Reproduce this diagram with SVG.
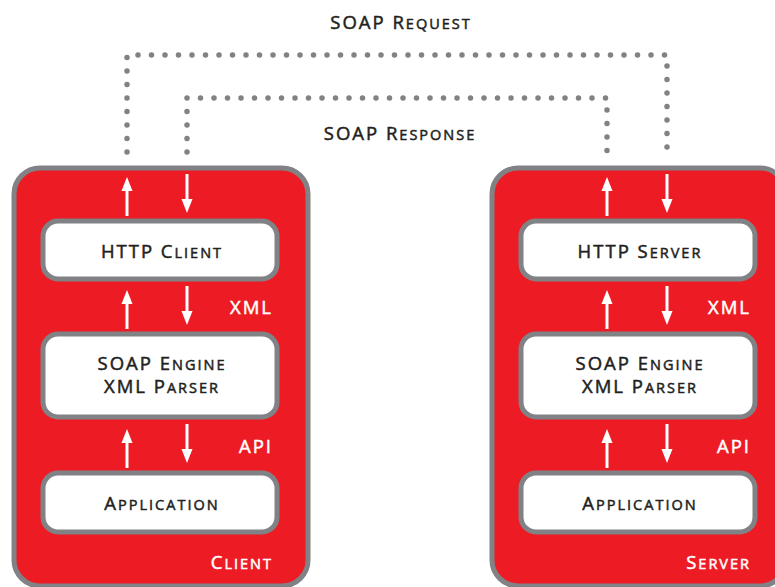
<svg xmlns="http://www.w3.org/2000/svg" width="775" height="587" viewBox="0 0 775 587">
<style>
.outer{fill:#ed1c24;stroke:#808285;stroke-width:5}
.inner{fill:#fff;stroke:#808285;stroke-width:5}
.t{font-family:"Open Sans","Liberation Sans",sans-serif;font-size:18.5px;letter-spacing:2px;text-anchor:middle;fill:#231f20;stroke:#231f20;stroke-width:0.5px;font-weight:500}
.s{font-size:14.5px}
.w{fill:#fff;stroke:#fff;text-anchor:end}
.dot{fill:none;stroke:#808285;stroke-width:5.5;stroke-linecap:round;stroke-dasharray:0 13.5}
.arr{stroke:#fff;stroke-width:3;marker-end:url(#ah)}
</style>
<defs>
<marker id="ah" markerWidth="16" markerHeight="14" refX="2" refY="7" orient="auto" markerUnits="userSpaceOnUse">
<path d="M0,1.5 L14,7 L0,12.5 Z" fill="#fff"/>
</marker>
</defs>
<text class="t" x="401" y="29">SOAP R<tspan class="s">EQUEST</tspan></text>
<text class="t" x="400" y="140">SOAP R<tspan class="s">ESPONSE</tspan></text>
<g id="connectors">
<path class="dot" d="M127,152 V55 H667 V152"/>
<path class="dot" d="M187,152 V98 H607 V152"/>
</g>
<g id="client">
<rect class="outer" x="14" y="168" width="294" height="418" rx="26"/>
<text class="t w" x="273" y="569">C<tspan class="s">LIENT</tspan></text>
<text class="t w" x="273" y="314">XML</text>
<text class="t w" x="273" y="453">API</text>
</g>
<g id="server">
<rect class="outer" x="492" y="168" width="294" height="418" rx="26"/>
<text class="t w" x="751" y="569">S<tspan class="s">ERVER</tspan></text>
<text class="t w" x="751" y="314">XML</text>
<text class="t w" x="751" y="453">API</text>
</g>
<g id="http-client">
<rect class="inner" x="43" y="221" width="234" height="58" rx="15"/>
<text class="t" x="162" y="258">HTTP C<tspan class="s">LIENT</tspan></text>
</g>
<g id="soap-client">
<rect class="inner" x="43" y="334" width="234" height="83" rx="15"/>
<text class="t" x="162" y="370">SOAP E<tspan class="s">NGINE</tspan></text>
<text class="t" x="162" y="393">XML P<tspan class="s">ARSER</tspan></text>
</g>
<g id="app-client">
<rect class="inner" x="43" y="473" width="234" height="59" rx="15"/>
<text class="t" x="162" y="510">A<tspan class="s">PPLICATION</tspan></text>
</g>
<g id="http-server">
<rect class="inner" x="521" y="221" width="234" height="58" rx="15"/>
<text class="t" x="640" y="258">HTTP S<tspan class="s">ERVER</tspan></text>
</g>
<g id="soap-server">
<rect class="inner" x="521" y="334" width="234" height="83" rx="15"/>
<text class="t" x="640" y="370">SOAP E<tspan class="s">NGINE</tspan></text>
<text class="t" x="640" y="393">XML P<tspan class="s">ARSER</tspan></text>
</g>
<g id="app-server">
<rect class="inner" x="521" y="473" width="234" height="59" rx="15"/>
<text class="t" x="640" y="510">A<tspan class="s">PPLICATION</tspan></text>
</g>
<g id="arrows">
<line class="arr" x1="127" y1="216" x2="127" y2="189"/>
<line class="arr" x1="187" y1="174" x2="187" y2="201"/>
<line class="arr" x1="127" y1="329" x2="127" y2="302"/>
<line class="arr" x1="187" y1="286" x2="187" y2="313"/>
<line class="arr" x1="127" y1="468" x2="127" y2="441"/>
<line class="arr" x1="187" y1="424" x2="187" y2="451"/>
<line class="arr" x1="607" y1="216" x2="607" y2="189"/>
<line class="arr" x1="667" y1="174" x2="667" y2="201"/>
<line class="arr" x1="607" y1="329" x2="607" y2="302"/>
<line class="arr" x1="667" y1="286" x2="667" y2="313"/>
<line class="arr" x1="607" y1="468" x2="607" y2="441"/>
<line class="arr" x1="667" y1="424" x2="667" y2="451"/>
</g>
</svg>
